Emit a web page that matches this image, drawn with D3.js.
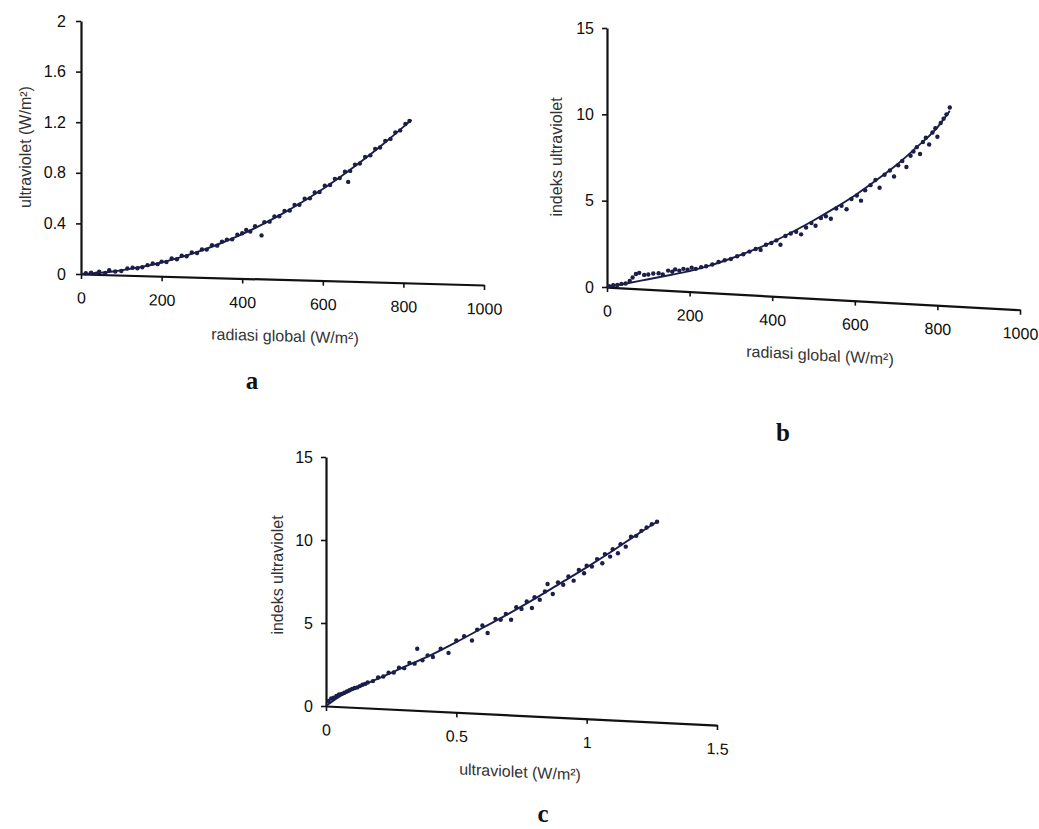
<!DOCTYPE html>
<html>
<head>
<meta charset="utf-8">
<script src="https://cdn.jsdelivr.net/npm/d3@7"></script>
<style>
  body { margin: 0; background: #fff; }
  svg text { font-family: "Liberation Sans", Arial, sans-serif; }
</style>
</head>
<body>
<svg id="fig" width="1039" height="829"></svg>
<script>
// ---- panel a : radiasi global vs ultraviolet ----
const fitA_x = [0, 50, 100, 150, 200, 250, 300, 350, 400, 450, 500, 550, 600, 650, 700, 750, 800, 820]
const fitA_y = [0, 0.010, 0.029, 0.056, 0.091, 0.135, 0.187, 0.247, 0.315, 0.392, 0.477, 0.571, 0.672, 0.783, 0.901, 1.028, 1.163, 1.219]
const ptsA_x = [12, 25, 38, 45, 60, 70, 85, 100, 115, 128, 140, 152, 165, 178, 190, 200, 212, 225, 238, 250,
  262, 275, 288, 300, 312, 325, 338, 350, 362, 375, 388, 400, 410, 420, 432, 448, 455, 468, 480, 492,
  505, 518, 530, 542, 555, 568, 580, 592, 605, 618, 630, 642, 655, 663, 668, 680, 692, 705, 718, 730,
  742, 755, 768, 780, 792, 805, 815]
const ptsA_y = [0.006, 0.010, 0.002, 0.018, 0.008, 0.030, 0.020, 0.024, 0.044, 0.050, 0.046, 0.053, 0.070, 0.083, 0.078, 0.098, 0.095, 0.122, 0.117, 0.145,
  0.140, 0.170, 0.166, 0.194, 0.193, 0.228, 0.224, 0.256, 0.272, 0.274, 0.310, 0.322, 0.348, 0.336, 0.378, 0.305, 0.410, 0.414, 0.455, 0.456,
  0.498, 0.502, 0.545, 0.548, 0.595, 0.598, 0.645, 0.648, 0.698, 0.703, 0.752, 0.758, 0.808, 0.728, 0.815, 0.865, 0.874, 0.925, 0.938, 0.988,
  1.000, 1.052, 1.068, 1.118, 1.135, 1.186, 1.210]
const ticksA_x = [0, 200, 400, 600, 800, 1000]
const ticksA_y = [0, 0.4, 0.8, 1.2, 1.6, 2]

// ---- panel b : radiasi global vs indeks ultraviolet ----
const fitB_x = [0, 50, 100, 150, 200, 250, 300, 350, 400, 450, 500, 550, 600, 650, 700, 750, 800, 830]
const fitB_y = [0, 0.22, 0.45, 0.68, 0.92, 1.25, 1.65, 2.1, 2.6, 3.2, 3.85, 4.55, 5.3, 6.15, 7.05, 8.1, 9.25, 10.2]
const ptsB_x = [5, 15, 25, 35, 45, 55, 62, 70, 78, 90, 100, 112, 125, 135, 148, 158, 165, 175, 185, 195,
  205, 215, 228, 240, 255, 270, 285, 300, 315, 330, 345, 360, 372, 385, 398, 410, 420, 432, 445, 458,
  470, 482, 495, 505, 518, 530, 542, 555, 568, 580, 592, 605, 615, 625, 638, 650, 660, 672, 685, 695,
  705, 715, 725, 735, 742, 750, 758, 765, 772, 780, 788, 795, 800, 808, 815, 822, 830]
const ptsB_y = [0.05, 0.1, 0.12, 0.18, 0.2, 0.35, 0.55, 0.75, 0.82, 0.7, 0.72, 0.78, 0.8, 0.72, 0.95, 0.88, 1.02, 0.95, 1.05, 1.0,
  1.12, 1.05, 1.15, 1.2, 1.3, 1.45, 1.55, 1.62, 1.78, 1.9, 2.05, 2.2, 2.15, 2.45, 2.55, 2.7, 2.45, 2.95, 3.1, 3.2,
  3.05, 3.45, 3.7, 3.55, 4.0, 4.1, 3.95, 4.55, 4.7, 4.5, 5.1, 5.3, 5.0, 5.6, 5.9, 6.2, 5.75, 6.5, 6.75, 6.4,
  7.05, 7.3, 6.95, 7.6, 7.85, 8.1, 7.7, 8.4, 8.65, 8.25, 8.95, 9.2, 8.7, 9.5, 9.75, 10.0, 10.4]
const ticksB_x = [0, 200, 400, 600, 800, 1000]
const ticksB_y = [0, 5, 10, 15]

// ---- panel c : ultraviolet vs indeks ultraviolet ----
const fitC_x = [0, 0.05, 0.1, 0.2, 0.3, 0.4, 0.5, 0.6, 0.7, 0.8, 0.9, 1.0, 1.1, 1.2, 1.27]
const fitC_y = [0, 0.55, 0.95, 1.65, 2.35, 3.05, 3.85, 4.7, 5.55, 6.45, 7.4, 8.35, 9.35, 10.4, 11.1]
const ptsC_x = [0.01, 0.02, 0.03, 0.04, 0.05, 0.06, 0.07, 0.08, 0.09, 0.1, 0.11, 0.12, 0.13, 0.14, 0.15, 0.16, 0.18, 0.2, 0.22, 0.24,
  0.26, 0.28, 0.3, 0.32, 0.34, 0.35, 0.37, 0.39, 0.41, 0.44, 0.47, 0.5, 0.53, 0.56, 0.58, 0.6, 0.62, 0.65, 0.67, 0.69,
  0.71, 0.73, 0.75, 0.77, 0.79, 0.8, 0.82, 0.84, 0.85, 0.87, 0.89, 0.91, 0.93, 0.95, 0.97, 0.99, 1.0, 1.02, 1.04, 1.06,
  1.07, 1.09, 1.1, 1.12, 1.13, 1.15, 1.17, 1.19, 1.21, 1.23, 1.25, 1.27]
const ptsC_y = [0.3, 0.45, 0.5, 0.6, 0.7, 0.72, 0.8, 0.88, 0.95, 1.02, 1.08, 1.12, 1.2, 1.28, 1.33, 1.42, 1.5, 1.72, 1.78, 2.0,
  2.02, 2.3, 2.28, 2.6, 2.55, 3.45, 2.75, 3.05, 2.95, 3.45, 3.2, 3.95, 4.2, 3.95, 4.6, 4.85, 4.4, 5.25, 5.2, 5.55,
  5.2, 5.95, 5.85, 6.3, 5.9, 6.55, 6.4, 6.9, 7.35, 6.75, 7.45, 7.3, 7.8, 7.55, 8.2, 8.0, 8.45, 8.4, 8.85, 8.6,
  9.15, 9.0, 9.45, 9.2, 9.75, 9.6, 10.2, 10.25, 10.55, 10.75, 10.95, 11.1]
const ticksC_x = [0, 0.5, 1, 1.5]
const ticksC_y = [0, 5, 10, 15]

const ink = '#1b1e48'
const svg = d3.select('#fig')

function drawPanel(p) {
    const x = d3.scaleLinear().domain(p.xDomain).range([0, p.w])
    const y = d3.scaleLinear().domain(p.yDomain).range([p.h, 0])
    const g = svg.append('g').attr('transform', `translate(${p.left},${p.top})`)

    // y axis
    const ya = g.append('g')
        .call(d3.axisLeft(y).tickValues(p.yTicks).tickSize(5).tickSizeOuter(0).tickPadding(p.yPad).tickFormat(p.yFmt))
    // x axis (the scanned page is slanted, so the axis runs down to the right)
    const ang = Math.atan(p.slope) * 180 / Math.PI
    const xa = g.append('g')
        .attr('transform', `translate(0,${p.h}) skewY(${ang})`)
        .call(d3.axisBottom(x).tickValues(p.xTicks).tickSize(5).tickSizeOuter(0).tickPadding(13).tickFormat(p.xFmt))

    for (const a of [ya, xa]) {
        a.select('.domain').attr('stroke', '#111').attr('stroke-width', 2.2)
        a.selectAll('.tick line').attr('stroke', '#111').attr('stroke-width', 1.6)
        a.selectAll('.tick text').attr('fill', '#0d0d0d').attr('font-size', 16)
    }

    xa.append('text')
        .attr('x', p.xTitleX).attr('y', 62)
        .attr('text-anchor', 'middle')
        .attr('fill', '#333').attr('font-size', 16)
        .text(p.xTitle)

    g.append('text')
        .attr('transform', `translate(${p.yTitleX},${p.yTitleY}) rotate(-90)`)
        .attr('text-anchor', 'middle')
        .attr('fill', '#333').attr('font-size', 16)
        .text(p.yTitle)

    // fitted curve
    const line = d3.line().x(d => x(d[0])).y(d => y(d[1])).curve(d3.curveMonotoneX)
    g.append('path')
        .datum(d3.zip(p.fitX, p.fitY))
        .attr('d', line)
        .attr('fill', 'none').attr('stroke', ink).attr('stroke-width', 1.9)

    // observations
    g.selectAll('circle.pt').data(d3.zip(p.ptsX, p.ptsY))
        .enter().append('circle')
        .attr('class', 'pt')
        .attr('cx', d => x(d[0])).attr('cy', d => y(d[1]))
        .attr('r', 2.2).attr('fill', ink)

    svg.append('text')
        .attr('x', p.tag[0]).attr('y', p.tag[1])
        .attr('text-anchor', 'middle')
        .style('font-family', '"Liberation Serif", "Times New Roman", serif')
        .style('font-weight', 'bold').style('font-size', '25px').attr('fill', '#111')
        .text(p.tagText)
}

const fmtDec = d => d === 0 ? '0' : String(d)

drawPanel({
    left: 81, top: 21, w: 403, h: 253, slope: 0.0273,
    xDomain: [0, 1000], yDomain: [0, 2], xTicks: ticksA_x, yTicks: ticksA_y,
    xFmt: fmtDec, yFmt: fmtDec, yPad: 10,
    fitX: fitA_x, fitY: fitA_y, ptsX: ptsA_x, ptsY: ptsA_y,
    xTitle: 'radiasi global (W/m²)', xTitleX: 204,
    yTitle: 'ultraviolet (W/m²)', yTitleX: -50, yTitleY: 126,
    tag: [252, 389], tagText: 'a'
})

drawPanel({
    left: 607, top: 28, w: 413, h: 259, slope: 0.055,
    xDomain: [0, 1000], yDomain: [0, 15], xTicks: ticksB_x, yTicks: ticksB_y,
    xFmt: fmtDec, yFmt: fmtDec, yPad: 8,
    fitX: fitB_x, fitY: fitB_y, ptsX: ptsB_x, ptsY: ptsB_y,
    xTitle: 'radiasi global (W/m²)', xTitleX: 213,
    yTitle: 'indeks ultraviolet', yTitleX: -45, yTitleY: 129,
    tag: [783, 441], tagText: 'b'
})

drawPanel({
    left: 326, top: 457, w: 391, h: 249, slope: 0.0486,
    xDomain: [0, 1.5], yDomain: [0, 15], xTicks: ticksC_x, yTicks: ticksC_y,
    xFmt: fmtDec, yFmt: fmtDec, yPad: 8,
    fitX: fitC_x, fitY: fitC_y, ptsX: ptsC_x, ptsY: ptsC_y,
    xTitle: 'ultraviolet (W/m²)', xTitleX: 194,
    yTitle: 'indeks ultraviolet', yTitleX: -43, yTitleY: 118,
    tag: [543, 822], tagText: 'c'
})
</script>
</body>
</html>
